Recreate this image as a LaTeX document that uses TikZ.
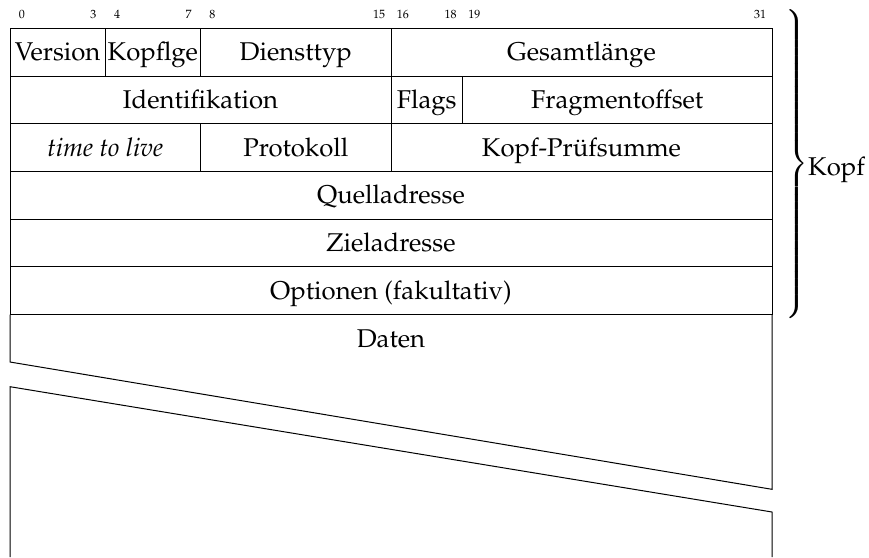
\documentclass[tikz,border=0pt]{standalone}
\usepackage[T1]{fontenc}
\usepackage{mathpazo}
\usepackage{amsmath}
\def\bw{23.8125}
\tikzset{
  fld/.style={draw, line width=1pt, inner sep=0pt, minimum height=47.7pt,
    text height=20pt, text depth=2.7pt, font=\fontsize{25.7}{30}\selectfont},
  bitnum/.style={anchor=base, inner sep=0pt, font=\fontsize{12}{14}\selectfont},
  lbl/.style={inner sep=0pt, font=\fontsize{25.7}{30}\selectfont},
  edge/.style={line width=1pt}
}
\newcommand\bfield[5]{\node[fld, minimum width={(#3-#2)*\bw*1pt}] (#1) at ({10+(#2+#3)/2*\bw}, {28.3+47.7*(#4+0.5)}) {#5};}
\newcommand\bnum[2]{\node[bitnum] (n#1) at ({10+(#1+0.5)*\bw},18) {#2};}
\begin{document}
\begin{tikzpicture}[x=1pt,y=-1pt]
\useasboundingbox (0,0) rectangle (869,557);
% bit numbers
\bnum{0}{0}\bnum{3}{3}\bnum{4}{4}\bnum{7}{7}\bnum{8}{8}\bnum{15}{15}
\bnum{16}{16}\bnum{18}{18}\bnum{19}{19}\bnum{31}{31}
% row 0
\bfield{version}{0}{4}{0}{Version}
\bfield{kopflge}{4}{8}{0}{Kopflge}
\bfield{diensttyp}{8}{16}{0}{Diensttyp}
\bfield{gesamt}{16}{32}{0}{Gesamtl\"ange}
% row 1
\bfield{ident}{0}{16}{1}{Identifikation}
\bfield{flags}{16}{19}{1}{Flags}
\bfield{fragoff}{19}{32}{1}{Fragmentoffset}
% row 2
\bfield{ttl}{0}{8}{2}{\textit{time to live}}
\bfield{proto}{8}{16}{2}{Protokoll}
\bfield{pruef}{16}{32}{2}{Kopf-Pr\"ufsumme}
% rows 3-5
\bfield{quelle}{0}{32}{3}{Quelladresse}
\bfield{ziel}{0}{32}{4}{Zieladresse}
\bfield{optionen}{0}{32}{5}{Optionen (fakultativ)}
% data region
\coordinate (dtl) at (10,314.5);
\coordinate (dtr) at (772,314.5);
\coordinate (cut1l) at (10,362);
\coordinate (cut1r) at (772,489.3);
\coordinate (cut2l) at (10,386.7);
\coordinate (cut2r) at (772,512);
\coordinate (dbl) at (10,557);
\coordinate (dbr) at (772,557);
\draw[edge] (dtl) -- (cut1l) -- (cut1r) -- (dtr);
\draw[edge] (dbl) -- (cut2l) -- (cut2r) -- (dbr);
\node[lbl, anchor=base] (daten) at (391,347) {Daten};
% brace
\node[anchor=west, inner sep=0pt, font=\fontsize{25.7}{30}\selectfont] (brace) at (784.5,164)
  {$\delimitershortfall=0pt\delimiterfactor=1000\nulldelimiterspace=0pt\left.\vcenter{\hbox{\rule{0pt}{294pt}}}\right\}$};
\node[lbl, anchor=base west] (kopf) at (808,175) {Kopf};
\end{tikzpicture}
\end{document}
